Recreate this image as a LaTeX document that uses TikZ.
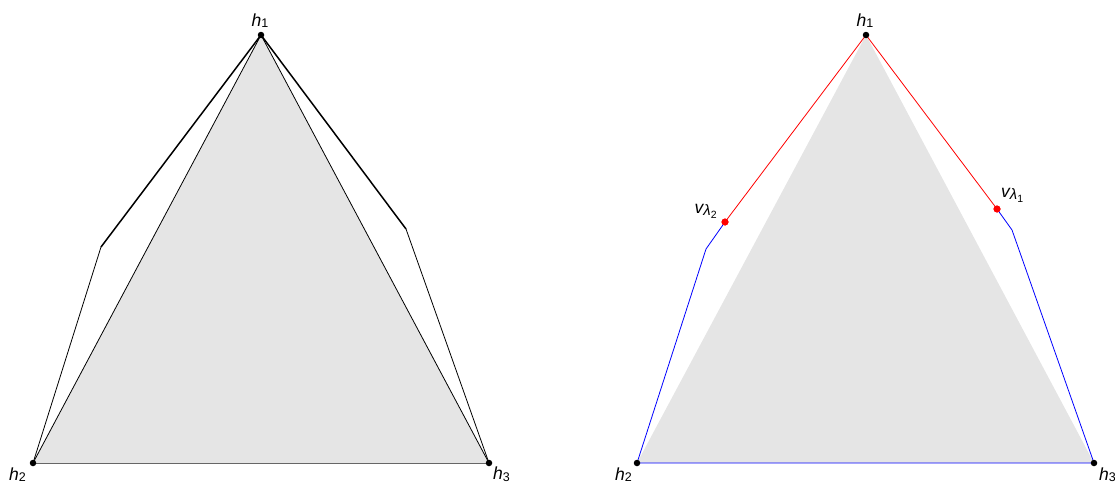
\documentclass[tikz,border=0pt]{standalone}
\usepackage{fontspec}
\setmainfont{Liberation Sans}
\newcommand{\sbs}[1]{\raisebox{-1.9pt}{\fontsize{12.5}{12.5}\selectfont\upshape #1}}
\newcommand{\lamsub}[1]{\raisebox{-2.6pt}{\fontsize{15}{15}\selectfont λ\raisebox{-3pt}{\fontsize{10.5}{10.5}\selectfont\upshape #1}}}
\begin{document}
\begin{tikzpicture}[x=1pt,y=-1pt,
  dot/.style={circle,fill=black,inner sep=0pt,minimum size=6.5pt},
  rdot/.style={circle,fill=red,inner sep=0pt,minimum size=7pt},
  lbl/.style={font=\fontsize{17.5}{20}\selectfont\itshape,inner sep=0pt,anchor=base west},
  edge/.style={line width=0.8pt,line join=round},
  graytri/.style={fill=black!10}]
\useasboundingbox (0,0) rectangle (1115,482);
% ---- left panel ----
\coordinate (a1) at (261,35);
\coordinate (a2) at (33,463);
\coordinate (a3) at (489,463);
\coordinate (ak2) at (101,247);
\coordinate (ak3) at (406,229);
\fill[graytri] (a1) -- (a2) -- (a3) -- cycle;
\draw[edge] (a2) -- (a1) -- (a3);
\draw[edge,black!60] (a2) -- (a3);
\draw[line width=1.5pt] (a1) -- (ak2);
\draw[line width=1.5pt] (a1) -- (ak3);
\draw[edge] (ak2) -- (a2);
\draw[edge] (ak3) -- (a3);
\node[dot] (A1) at (a1) {};
\node[dot] (A2) at (a2) {};
\node[dot] (A3) at (a3) {};
\node[lbl] (LA1) at (251.5,26) {h\sbs{1}};
\node[lbl] (LA2) at (9,480) {h\sbs{2}};
\node[lbl] (LA3) at (493,479.5) {h\sbs{3}};
% ---- right panel ----
\coordinate (b1) at (866,35);
\coordinate (b2) at (637,463);
\coordinate (b3) at (1094,463);
\coordinate (bk2) at (706,249);
\coordinate (bk3) at (1012,230);
\fill[graytri] (b1) -- (b2) -- (b3) -- cycle;
\node[rdot] (V2) at (725,222) {};
\node[rdot] (V1) at (997,209) {};
\draw[edge,red] (V2.center) -- (b1) -- (V1.center);
\draw[edge,blue] (V2.center) -- (bk2) -- (b2) -- (b3) -- (bk3) -- (V1.center);
\node[dot] (B1) at (b1) {};
\node[dot] (B2) at (b2) {};
\node[dot] (B3) at (b3) {};
\node[rdot] at (V2) {};
\node[rdot] at (V1) {};
\node[lbl] (LB1) at (856.5,26) {h\sbs{1}};
\node[lbl] (LB2) at (615,480) {h\sbs{2}};
\node[lbl] (LB3) at (1099,480) {h\sbs{3}};
\node[lbl] (LV2) at (694.5,213.3) {v\lamsub{2}};
\node[lbl] (LV1) at (1001,197.3) {v\lamsub{1}};
\end{tikzpicture}
\end{document}
